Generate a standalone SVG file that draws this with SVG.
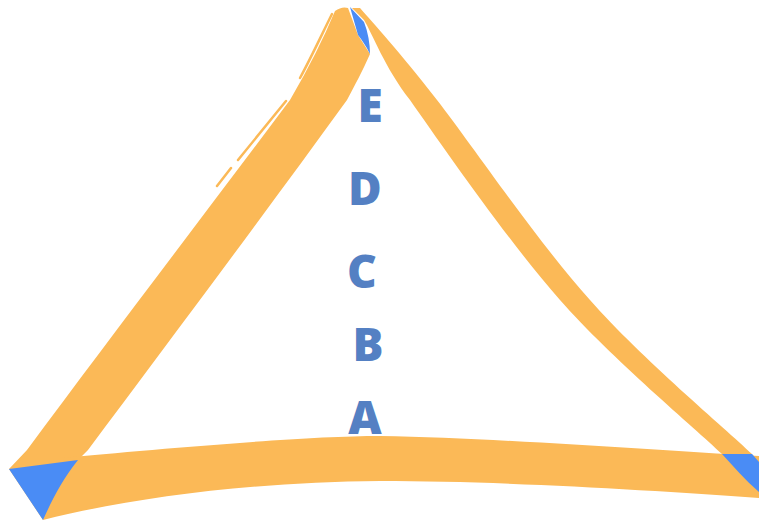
<svg xmlns="http://www.w3.org/2000/svg" width="759" height="523" viewBox="0 0 759 523">
<style>
.o{fill:#fbb957}
.s{fill:none;stroke:#fbb957;stroke-width:2.5;stroke-linecap:round}
.b{fill:#4a8cf5}
.t{font-family:"Open Sans","Liberation Sans",sans-serif;font-weight:800;font-size:46px;fill:#5480c3;text-anchor:middle}
</style>
<rect width="759" height="523" fill="#ffffff"/>
<g id="strokes">
<path class="o" d="M9,469 L27,450 C110,338 200,220 290,100 Q318,52 335,11 Q342,6 348,8 L358,35 L370,54 C362,72 355,85 347,100 C260,220 170,340 88,450 L78,460 L43,520 Z"/>
<path class="s" d="M217,186 L231,168 M238,160 L286,101"/>
<path class="s" d="M300,78 C312,56 322,34 332,14"/>
<path class="o" d="M352,8 L364,20 C372,33 385,68 410,100 C443,147 508,241 560,300 C612,359 695,428 722,454 L752,454 L759,462 L759,472 L752,454 C725,428 642,359 590,300 C537,241 475,149 437,100 C399,51 373,23 360,8 Z"/>
<path class="o" d="M60,458 C150,450 300,436 380,436 C500,438 650,450 759,456 L759,498 C650,490 500,481 380,481 C250,482 130,498 43,520 Z"/>
</g>
<g id="corners">
<path class="b" d="M9,469 L78,460 C62,480 52,500 43,520 Z"/>
<path class="b" d="M350,7 L364,22 C368,32 370,44 370,54 C366,46 362,40 358,35 Z"/>
<path class="b" d="M722,454 L752,454 L759,462 L759,492 C745,480 733,466 722,454 Z"/>
</g>
<g id="labels">
<text id="E" class="t" x="370" y="122">E</text>
<text id="D" class="t" x="365" y="205">D</text>
<text id="C" class="t" x="362" y="288">C</text>
<text id="B" class="t" x="368" y="361">B</text>
<text id="A" class="t" x="365" y="434">A</text>
</g>
</svg>
